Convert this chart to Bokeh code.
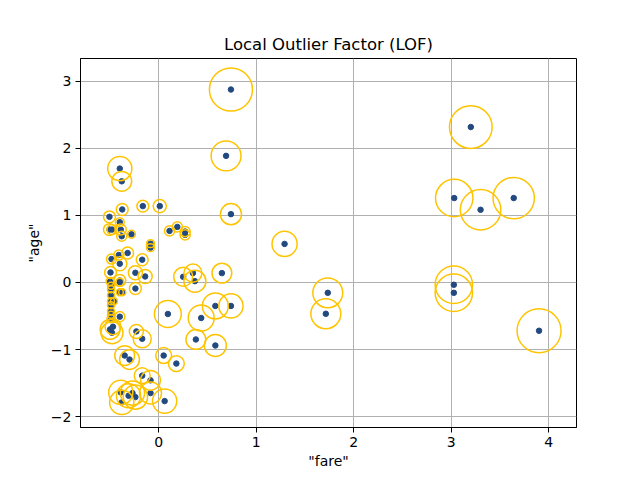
from bokeh.plotting import figure
from bokeh.models import Range1d, FixedTicker
from bokeh.embed import file_html
from bokeh.resources import INLINE

# standardised passenger fare / age and the LOF score that drives each ring
fare = [0.74, 0.69, 0.74, 3.20, 3.03, 3.30, 3.64, 1.29, 1.733, 1.713, 3.026, 3.026, 3.90,
        0.647, 0.25, 0.35, 0.37, 0.093, 0.58, 0.74, 0.435, 0.38, 0.58, 0.05, 0.18, 0.06,
        -0.40, -0.38, -0.375, -0.164, 0.01, -0.506, -0.40, -0.506, -0.48, -0.39, -0.38,
        -0.28, -0.085, -0.085, 0.11, 0.19, 0.27, 0.27, -0.485, -0.41, -0.32, -0.40, -0.17,
        -0.495, -0.24, -0.14, -0.40, -0.50, -0.24,
        -0.49, -0.49, -0.49, -0.49, -0.49, -0.49, -0.49, -0.49, -0.40, -0.40, -0.375,
        -0.46, -0.40, -0.50, -0.48, -0.47, -0.23, -0.17, -0.35, -0.30, -0.17, -0.085,
        -0.39, -0.27, -0.24, -0.085, -0.38, -0.31]
age = [2.88, 1.89, 1.02, 2.32, 1.26, 1.085, 1.26, 0.576, -0.154, -0.467, -0.034, -0.154, -0.72,
       0.14, 0.085, 0.14, 0.02, -0.47, -0.35, -0.35, -0.53, -0.85, -0.94, -1.09, -1.21, -1.77,
       1.70, 1.51, 1.09, 1.14, 1.14, 0.98, 0.90, 0.79, 0.79, 0.79, 0.69,
       0.72, 0.58, 0.52, 0.77, 0.83, 0.76, 0.71, 0.35, 0.41, 0.44, 0.28, 0.34,
       0.15, 0.145, 0.09, 0.03, 0.015, -0.09,
       -0.05, -0.10, -0.19, -0.28, -0.34, -0.43, -0.48, -0.54, 0.005, -0.145, -0.145,
       -0.28, -0.51, -0.70, -0.75, -0.66, -0.73, -0.84, -1.09, -1.15, -1.39, -1.46,
       -1.64, -1.65, -1.71, -1.65, -1.79, -1.69]
outlier_score = [0.98, 0.68, 0.48, 0.97, 0.85, 0.92, 0.94, 0.57, 0.68, 0.68, 0.85, 0.85, 1.0,
                 0.45, 0.43, 0.41, 0.5, 0.61, 0.59, 0.55, 0.59, 0.45, 0.5, 0.36, 0.36, 0.55,
                 0.55, 0.45, 0.27, 0.27, 0.3, 0.27, 0.2, 0.27, 0.23, 0.25, 0.23,
                 0.18, 0.18, 0.18, 0.23, 0.23, 0.23, 0.23, 0.23, 0.23, 0.27, 0.32, 0.27,
                 0.27, 0.32, 0.32, 0.27, 0.18, 0.27,
                 0.16, 0.16, 0.16, 0.16, 0.16, 0.16, 0.16, 0.18, 0.18, 0.16, 0.16,
                 0.16, 0.23, 0.45, 0.5, 0.36, 0.32, 0.41, 0.45, 0.45, 0.36, 0.45,
                 0.55, 0.55, 0.55, 0.5, 0.55, 0.55]

x_ticks = [0, 1, 2, 3, 4]
y_ticks = [-2, -1, 0, 1, 2, 3]

FONT = "DejaVu Sans"

p = figure(
    title="Local Outlier Factor (LOF)",
    x_axis_label='"fare"',
    y_axis_label='"age"',
    x_range=Range1d(-0.803, 4.284),
    y_range=Range1d(-2.164, 3.343),
    frame_width=496,
    frame_height=369,
    min_border_left=80,
    min_border_right=56,
    min_border_top=58,
    min_border_bottom=40,
    output_backend="svg",
    toolbar_location=None,
)

p.title.align = "center"
p.title.text_font = FONT
p.title.text_font_size = "16.5px"
p.title.text_font_style = "normal"
p.title.text_color = "black"

p.outline_line_color = "black"
p.outline_line_width = 1
p.grid.grid_line_color = "#b0b0b0"
p.grid.grid_line_width = 1

p.xaxis.ticker = FixedTicker(ticks=x_ticks)
p.yaxis.ticker = FixedTicker(ticks=y_ticks)
p.yaxis.major_label_overrides = {t: str(t).replace("-", "\u2212") for t in y_ticks}
for ax in (p.xaxis, p.yaxis):
    ax.major_tick_in = 0
    ax.major_tick_out = 5
    ax.minor_tick_line_color = None
    ax.axis_line_color = "black"
    ax.major_tick_line_color = "black"
    ax.major_label_text_font = FONT
    ax.major_label_text_font_size = "14px"
    ax.major_label_text_color = "black"
    ax.major_label_standoff = 4
    ax.axis_label_text_font = FONT
    ax.axis_label_text_font_size = "14px"
    ax.axis_label_text_font_style = "normal"
    ax.axis_label_text_color = "black"
p.xaxis.axis_label_standoff = 3
p.yaxis.axis_label_standoff = 6

ring_size = [44 * s for s in outlier_score]

p.scatter(fare, age, size=5.5, marker="circle", fill_color="#234a80", line_color="#234a80")
p.scatter(fare, age, size=ring_size, marker="circle", fill_color=None,
          line_color="#ffc400", line_width=1.5)

open("out.html", "w").write(file_html(p, INLINE))
